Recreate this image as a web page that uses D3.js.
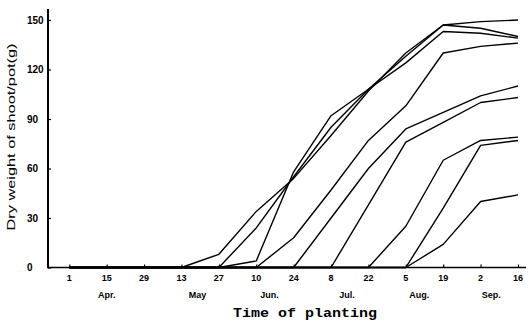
<!DOCTYPE html>
<html><head><meta charset="utf-8">
<script src="https://cdn.jsdelivr.net/npm/d3@7"></script>
<style>
html,body{margin:0;padding:0;background:#fff;}
svg{display:block;}
</style></head>
<body>
<script>
// ---- data ----
const tickDates = ["1985-04-01","1985-04-15","1985-04-29","1985-05-13","1985-05-27","1985-06-10","1985-06-24","1985-07-08","1985-07-22","1985-08-05","1985-08-19","1985-09-02","1985-09-16"];
const tickLabels = ["1","15","29","13","27","10","24","8","22","5","19","2","16"];
const monthDates = ["1985-04-15","1985-05-19","1985-06-15","1985-07-14","1985-08-10","1985-09-06"];
const monthLabels = ["Apr.","May","Jun.","Jul.","Aug.","Sep."];
const yTicks = [0,30,60,90,120,150];
// dry weight (g) at each tick date, one array per planting
const s1 = [0,0,0,0,8,34,54,80,107,130,147,149,150];
const s2 = [0,0,0,0,0,24,55,85,108,128,147,145,140];
const s3 = [0,0,0,0,0,4,58,92,108,124,143,142,139];
const s4 = [0,0,0,0,0,0,18,47,77,98,130,134,136];
const s5 = [0,0,0,0,0,0,0,30,60,84,94,104,110];
const s6 = [0,0,0,0,0,0,0,0,38,76,88,100,103];
const s7 = [0,0,0,0,0,0,0,0,0,25,65,77,79];
const s8 = [0,0,0,0,0,0,0,0,0,0,36,74,77];
const s9 = [0,0,0,0,0,0,0,0,0,0,14,40,44];
const series = [s1,s2,s3,s4,s5,s6,s7,s8,s9];

// ---- drawing ----
const W = 530, H = 322;
const parse = d3.timeParse("%Y-%m-%d");
const dates = tickDates.map(parse);
const svg = d3.select("body").append("svg").attr("width", W).attr("height", H);

const x = d3.scaleTime().domain([dates[0], dates[dates.length-1]]).range([69.3, 518]);
const y = d3.scaleLinear().domain([0,150]).range([267.5, 20]);
const axisX = 48;

const line = d3.line().x((d,i)=>x(dates[i])).y(d=>y(d));
svg.append("g").selectAll("path").data(series).join("path")
  .attr("d", line).attr("fill","none").attr("stroke","#000")
  .attr("stroke-width",1.4).attr("stroke-linejoin","round");

// x axis
const gx = svg.append("g").attr("transform",`translate(0,${y(0)})`);
gx.call(d3.axisTop(x).tickValues(dates).tickSize(3).tickFormat(()=>""));
gx.select(".domain").remove();
gx.selectAll("line").attr("stroke","#000").attr("stroke-width",1.2);
svg.append("line").attr("x1",axisX).attr("x2",526).attr("y1",y(0)).attr("y2",y(0))
  .attr("stroke","#000").attr("stroke-width",1.6);
svg.append("g").selectAll("text").data(dates).join("text")
  .attr("x", d=>x(d)).attr("y", 281).attr("text-anchor","middle")
  .attr("font-family","Liberation Sans, Arial, sans-serif").attr("font-weight","bold")
  .attr("font-size",9).text((d,i)=>tickLabels[i]);
svg.append("g").selectAll("text").data(monthDates.map(parse)).join("text")
  .attr("x", d=>x(d)).attr("y", 298).attr("text-anchor","middle")
  .attr("font-family","Liberation Sans, Arial, sans-serif").attr("font-weight","bold")
  .attr("font-size",9).text((d,i)=>monthLabels[i]);
svg.append("text").attr("x",305).attr("y",317).attr("text-anchor","middle")
  .attr("font-family","Liberation Mono, Courier New, monospace").attr("font-weight","bold")
  .attr("font-size",13).attr("textLength",144).attr("lengthAdjust","spacingAndGlyphs")
  .text("Time of planting");

// y axis
const gy = svg.append("g").attr("transform",`translate(${axisX},0)`);
gy.call(d3.axisRight(y).tickValues(yTicks).tickSize(3).tickFormat(()=>""));
gy.select(".domain").remove();
gy.selectAll("line").attr("stroke","#000").attr("stroke-width",1.2);
svg.append("line").attr("x1",axisX).attr("x2",axisX).attr("y1",9).attr("y2",y(0)+0.8)
  .attr("stroke","#000").attr("stroke-width",2);
svg.append("g").selectAll("text").data(yTicks).join("text")
  .attr("x", 27).attr("y", d=>y(d)+3.5).attr("text-anchor","start")
  .attr("font-family","Liberation Sans, Arial, sans-serif").attr("font-weight","bold")
  .attr("font-size",10).text(d=>d);
svg.append("text").attr("transform","translate(15,137) rotate(-90)")
  .attr("text-anchor","middle")
  .attr("font-family","Liberation Sans, Arial, sans-serif")
  .attr("font-size",10).attr("textLength",187).attr("lengthAdjust","spacingAndGlyphs")
  .text("Dry weight of shoot/pot(g)");
</script>
</body></html>
